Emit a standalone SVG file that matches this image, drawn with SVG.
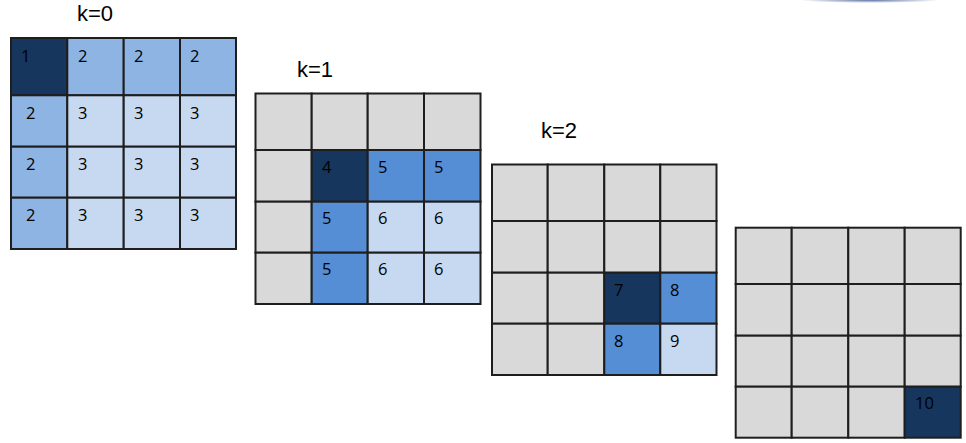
<svg xmlns="http://www.w3.org/2000/svg" width="966" height="443" viewBox="0 0 966 443">
<style>
.c{stroke:#1e1e1e;stroke-width:2}
.n{fill:#17365d}
.m{fill:#8eb4e3}
.l{fill:#c6d9f1}
.b{fill:#558ed5}
.g{fill:#d9d9d9}
.t{font-family:"Open Sans","Liberation Sans",sans-serif;font-size:16.5px;fill:#000}
.k{font-family:"Liberation Sans",Arial,sans-serif;font-size:22px;fill:#000}
</style>
<defs>
<radialGradient id="sm" cx="0.5" cy="0.5" r="0.5">
<stop offset="0" stop-color="#4a5f9a" stop-opacity="0.9"/>
<stop offset="1" stop-color="#4a5f9a" stop-opacity="0"/>
</radialGradient>
</defs>
<rect width="966" height="443" fill="#fff"/>
<ellipse cx="870" cy="0" rx="70" ry="3" fill="url(#sm)"/>

<g id="grid-k0">
<text class="k" x="77" y="21">k=0</text>
<rect class="c n" x="11" y="38" width="56.3" height="57.3"/>
<rect class="c m" x="67.3" y="38" width="56.4" height="57.3"/>
<rect class="c m" x="123.7" y="38" width="56.3" height="57.3"/>
<rect class="c m" x="180" y="38" width="56" height="57.3"/>
<rect class="c m" x="11" y="95.3" width="56.3" height="51.4"/>
<rect class="c l" x="67.3" y="95.3" width="56.4" height="51.4"/>
<rect class="c l" x="123.7" y="95.3" width="56.3" height="51.4"/>
<rect class="c l" x="180" y="95.3" width="56" height="51.4"/>
<rect class="c m" x="11" y="146.7" width="56.3" height="51"/>
<rect class="c l" x="67.3" y="146.7" width="56.4" height="51"/>
<rect class="c l" x="123.7" y="146.7" width="56.3" height="51"/>
<rect class="c l" x="180" y="146.7" width="56" height="51"/>
<rect class="c m" x="11" y="197.7" width="56.3" height="51.3"/>
<rect class="c l" x="67.3" y="197.7" width="56.4" height="51.3"/>
<rect class="c l" x="123.7" y="197.7" width="56.3" height="51.3"/>
<rect class="c l" x="180" y="197.7" width="56" height="51.3"/>
<text class="t" x="21" y="62">1</text>
<text class="t" x="78" y="62">2</text>
<text class="t" x="134" y="62">2</text>
<text class="t" x="190" y="62">2</text>
<text class="t" x="26" y="119">2</text>
<text class="t" x="78" y="119">3</text>
<text class="t" x="134" y="119">3</text>
<text class="t" x="190" y="119">3</text>
<text class="t" x="26" y="170">2</text>
<text class="t" x="78" y="170">3</text>
<text class="t" x="134" y="170">3</text>
<text class="t" x="190" y="170">3</text>
<text class="t" x="26" y="221">2</text>
<text class="t" x="78" y="221">3</text>
<text class="t" x="134" y="221">3</text>
<text class="t" x="190" y="221">3</text>
</g>

<g id="grid-k1">
<text class="k" x="297" y="77">k=1</text>
<rect class="c g" x="255.5" y="93.5" width="56.2" height="56.5"/>
<rect class="c g" x="311.7" y="93.5" width="56" height="56.5"/>
<rect class="c g" x="367.7" y="93.5" width="56.3" height="56.5"/>
<rect class="c g" x="424" y="93.5" width="56.5" height="56.5"/>
<rect class="c g" x="255.5" y="150" width="56.2" height="51.7"/>
<rect class="c n" x="311.7" y="150" width="56" height="51.7"/>
<rect class="c b" x="367.7" y="150" width="56.3" height="51.7"/>
<rect class="c b" x="424" y="150" width="56.5" height="51.7"/>
<rect class="c g" x="255.5" y="201.7" width="56.2" height="51"/>
<rect class="c b" x="311.7" y="201.7" width="56" height="51"/>
<rect class="c l" x="367.7" y="201.7" width="56.3" height="51"/>
<rect class="c l" x="424" y="201.7" width="56.5" height="51"/>
<rect class="c g" x="255.5" y="252.7" width="56.2" height="51.3"/>
<rect class="c b" x="311.7" y="252.7" width="56" height="51.3"/>
<rect class="c l" x="367.7" y="252.7" width="56.3" height="51.3"/>
<rect class="c l" x="424" y="252.7" width="56.5" height="51.3"/>
<text class="t" x="322" y="173">4</text>
<text class="t" x="378" y="173">5</text>
<text class="t" x="434" y="173">5</text>
<text class="t" x="322" y="224">5</text>
<text class="t" x="378" y="224">6</text>
<text class="t" x="434" y="224">6</text>
<text class="t" x="322" y="275">5</text>
<text class="t" x="378" y="275">6</text>
<text class="t" x="434" y="275">6</text>
</g>

<g id="grid-k2">
<text class="k" x="541" y="138">k=2</text>
<rect class="c g" x="492" y="164.5" width="55.7" height="56.5"/>
<rect class="c g" x="547.7" y="164.5" width="56.6" height="56.5"/>
<rect class="c g" x="604.3" y="164.5" width="56" height="56.5"/>
<rect class="c g" x="660.3" y="164.5" width="56.2" height="56.5"/>
<rect class="c g" x="492" y="221" width="55.7" height="51.7"/>
<rect class="c g" x="547.7" y="221" width="56.6" height="51.7"/>
<rect class="c g" x="604.3" y="221" width="56" height="51.7"/>
<rect class="c g" x="660.3" y="221" width="56.2" height="51.7"/>
<rect class="c g" x="492" y="272.7" width="55.7" height="51"/>
<rect class="c g" x="547.7" y="272.7" width="56.6" height="51"/>
<rect class="c n" x="604.3" y="272.7" width="56" height="51"/>
<rect class="c b" x="660.3" y="272.7" width="56.2" height="51"/>
<rect class="c g" x="492" y="323.7" width="55.7" height="51.3"/>
<rect class="c g" x="547.7" y="323.7" width="56.6" height="51.3"/>
<rect class="c b" x="604.3" y="323.7" width="56" height="51.3"/>
<rect class="c l" x="660.3" y="323.7" width="56.2" height="51.3"/>
<text class="t" x="614" y="296">7</text>
<text class="t" x="670" y="296">8</text>
<text class="t" x="614" y="347">8</text>
<text class="t" x="670" y="347">9</text>
</g>

<g id="grid-k3">
<rect class="c g" x="735.7" y="227.7" width="56" height="56.3"/>
<rect class="c g" x="791.7" y="227.7" width="56.6" height="56.3"/>
<rect class="c g" x="848.3" y="227.7" width="56.4" height="56.3"/>
<rect class="c g" x="904.7" y="227.7" width="56" height="56.3"/>
<rect class="c g" x="735.7" y="284" width="56" height="51.7"/>
<rect class="c g" x="791.7" y="284" width="56.6" height="51.7"/>
<rect class="c g" x="848.3" y="284" width="56.4" height="51.7"/>
<rect class="c g" x="904.7" y="284" width="56" height="51.7"/>
<rect class="c g" x="735.7" y="335.7" width="56" height="51"/>
<rect class="c g" x="791.7" y="335.7" width="56.6" height="51"/>
<rect class="c g" x="848.3" y="335.7" width="56.4" height="51"/>
<rect class="c g" x="904.7" y="335.7" width="56" height="51"/>
<rect class="c g" x="735.7" y="386.7" width="56" height="51"/>
<rect class="c g" x="791.7" y="386.7" width="56.6" height="51"/>
<rect class="c g" x="848.3" y="386.7" width="56.4" height="51"/>
<rect class="c n" x="904.7" y="386.7" width="56" height="51"/>
<text class="t" x="915" y="409">10</text>
</g>
</svg>
